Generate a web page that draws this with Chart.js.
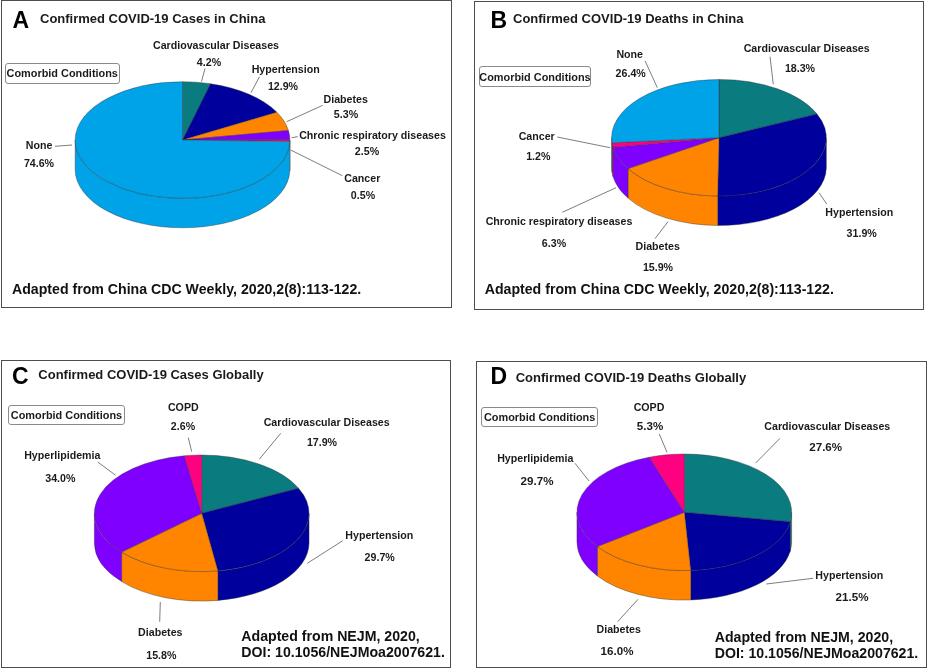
<!DOCTYPE html>
<html>
<head>
<meta charset="utf-8">
<title>Comorbid conditions</title>
<script src="https://cdn.jsdelivr.net/npm/chart.js@4"></script>
<style>
  html, body { margin: 0; padding: 0; background: #fff; }
  body { position: relative; width: 927px; height: 670px; overflow: hidden; font-family: "Liberation Sans", Arial, sans-serif; font-weight: bold; color: #1a1a1a; }
  canvas { position: absolute; }
  .panel { position: absolute; box-sizing: border-box; border: 1.5px solid #4d4d4d; }
  .txt { position: absolute; white-space: nowrap; line-height: 1; }
  .lab { font-size: 10.65px; transform: translate(-50%, -50%); }
  .big { font-size: 11.6px; }
  .letter { font-size: 23px; color: #000; transform: translateY(-50%); }
  .title { font-size: 13px; transform: translateY(-50%); }
  .foot { font-size: 14.15px; color: #111; transform: translateY(-50%); }
  .cond { position: absolute; box-sizing: border-box; border: 1px solid #8a8a8a; border-radius: 3px; font-size: 10.9px; display: flex; align-items: center; justify-content: center; white-space: nowrap; }
</style>
</head>
<body>
<script>
// data
var casesChinaNames = ["Cardiovascular Diseases", "Hypertension", "Diabetes", "Chronic respiratory diseases", "Cancer", "None"];
var casesChinaValues = [4.2, 12.9, 5.3, 2.5, 0.5, 74.6];
var deathsChinaNames = ["Cardiovascular Diseases", "Hypertension", "Diabetes", "Chronic respiratory diseases", "Cancer", "None"];
var deathsChinaValues = [18.3, 31.9, 15.9, 6.3, 1.2, 26.4];
var casesGlobalNames = ["Cardiovascular Diseases", "Hypertension", "Diabetes", "Hyperlipidemia", "COPD"];
var casesGlobalValues = [17.9, 29.7, 15.8, 34.0, 2.6];
var deathsGlobalNames = ["Cardiovascular Diseases", "Hypertension", "Diabetes", "Hyperlipidemia", "COPD"];
var deathsGlobalValues = [27.6, 21.5, 16.0, 29.7, 5.3];

var chinaColors = ["#0a7b7f", "#00009c", "#ff8400", "#8000ff", "#ff0080", "#00a2e8"];
var globalColors = ["#0a7b7f", "#00009c", "#ff8400", "#8000ff", "#ff0080"];

var chinaFoot = ["Adapted from China CDC Weekly, 2020,2(8):113-122."];
var globalFoot = ["Adapted from NEJM, 2020,", "DOI: 10.1056/NEJMoa2007621."];

// page layout, px. label rows: name x,y  value x,y  leader x1,y1,x2,y2
var RADIUS = 107.6, SQUASH = 0.543, DEPTH = 29.5;

var panels = [
  { letter: "A", title: "Confirmed COVID-19 Cases in China", names: casesChinaNames, values: casesChinaValues, colors: chinaColors, foot: chinaFoot,
    box: [1, 0, 450.5, 308], cx: 182.5, cy: 140, letterAt: [12.5, 19.5], titleAt: [40, 18], footAt: [12, 288.5], footGap: 0,
    cond: [5, 62.5, 114.5, 21.5],
    rows: [
      [216, 44.5, 209, 62, 205, 68.5, 201.5, 81.5],
      [285.7, 68.7, 283, 85.7, 259.5, 76.7, 251, 92.7],
      [345.7, 99.3, 346, 114, 322.7, 105.3, 286.7, 121.7],
      [372.5, 135.3, 367, 151, 297.7, 136.7, 291.7, 137.7],
      [362.3, 177.7, 363, 195.3, 342.3, 175.7, 290.7, 150],
      [39, 145, 39, 163, 55, 146.3, 72, 145]
    ] },
  { letter: "B", title: "Confirmed COVID-19 Deaths in China", names: deathsChinaNames, values: deathsChinaValues, colors: chinaColors, foot: chinaFoot,
    box: [474, 1, 450, 308.5], cx: 719, cy: 137.7, letterAt: [490.5, 19.5], titleAt: [513, 18.3], footAt: [484.7, 289], footGap: 0,
    cond: [479, 66.3, 112, 20.7],
    rows: [
      [806.7, 48.3, 800, 68.3, 770, 56.7, 773.3, 84.3],
      [859.3, 212.3, 861.7, 233, 826.7, 204, 819, 192.7],
      [657.7, 246, 658, 267, 655, 238.7, 668, 221.7],
      [559, 220.7, 554, 243, 562.3, 212.3, 616, 187.7],
      [536.7, 136, 538.3, 156, 557.3, 137, 610, 147.7],
      [629.7, 54, 630.7, 72.7, 645, 60.7, 657.3, 87.7]
    ] },
  { letter: "C", title: "Confirmed COVID-19 Cases Globally", names: casesGlobalNames, values: casesGlobalValues, colors: globalColors, foot: globalFoot,
    box: [1, 360, 449.5, 307.5], cx: 201.7, cy: 513.3, letterAt: [12, 376], titleAt: [38.3, 374.3], footAt: [241.3, 636], footGap: 16.4,
    cond: [7.7, 404.7, 117.6, 20.6],
    rows: [
      [326.7, 422, 322, 442.3, 280.7, 433.3, 259.3, 459.3],
      [379.3, 535.3, 379.7, 556.7, 342.7, 540.7, 307.3, 563.3],
      [160.3, 632, 161.3, 655, 160.3, 602, 159.7, 621.7],
      [62.3, 455.3, 60.3, 478, 97.7, 462, 115.7, 475.3],
      [183.3, 407, 183, 426.3, 188.3, 437.7, 191.7, 451.7]
    ] },
  { letter: "D", title: "Confirmed COVID-19 Deaths Globally", names: deathsGlobalNames, values: deathsGlobalValues, colors: globalColors, foot: globalFoot,
    box: [476.3, 361.3, 450.7, 307], cx: 684.3, cy: 512.3, letterAt: [490.5, 376], titleAt: [515.7, 377.3], footAt: [714.7, 637], footGap: 16.3,
    valueCls: "big", cond: [481.3, 407.3, 116.7, 19.7],
    rows: [
      [827.3, 426, 825.7, 447, 780, 438.3, 755.7, 463],
      [849.3, 575.3, 852, 597, 813, 578.3, 766.3, 584],
      [618.7, 629.3, 617, 651.3, 617.7, 621.7, 638, 599.3],
      [535.3, 458, 537, 480.7, 575, 463.3, 589, 481],
      [649, 407.3, 650, 425.7, 659.3, 434, 667, 452.3]
    ] }
];

// flattens the pie, puts a wall under the front half and draws the leaders
var tiltPlugin = {
  id: "tilt",
  beforeDatasetsDraw: function (chart) {
    var ctx = chart.ctx;
    var arcs = chart.getDatasetMeta(0).data;
    var bg = chart.data.datasets[0].backgroundColor;
    ctx.save();
    for (var i = 0; i < arcs.length; i++) {
      var p = arcs[i].getProps(["x", "y", "startAngle", "endAngle", "outerRadius"]);
      var a0 = Math.max(p.startAngle, 0);
      var a1 = Math.min(p.endAngle, Math.PI);
      if (a1 <= a0) continue;
      ctx.beginPath();
      ctx.ellipse(p.x, p.y, p.outerRadius, p.outerRadius * SQUASH, 0, a0, a1);
      ctx.ellipse(p.x, p.y + DEPTH, p.outerRadius, p.outerRadius * SQUASH, 0, a1, a0, true);
      ctx.closePath();
      ctx.fillStyle = bg[i];
      ctx.fill();
      ctx.lineWidth = 0.4;
      ctx.strokeStyle = "#333";
      ctx.stroke();
    }
    var cy = arcs[0].y;
    ctx.translate(0, cy);
    ctx.scale(1, SQUASH);
    ctx.translate(0, -cy);
  },
  afterDatasetsDraw: function (chart, args, opts) {
    var ctx = chart.ctx;
    ctx.restore();
    ctx.save();
    ctx.strokeStyle = "#6e6e6e";
    ctx.lineWidth = 0.9;
    opts.rows.forEach(function (r) {
      ctx.beginPath();
      ctx.moveTo(r[4] - opts.ox, r[5] - opts.oy);
      ctx.lineTo(r[6] - opts.ox, r[7] - opts.oy);
      ctx.stroke();
    });
    ctx.restore();
  }
};

function addText(cls, text, x, y) {
  var el = document.createElement("div");
  el.className = "txt " + cls;
  el.textContent = text;
  el.style.left = x + "px";
  el.style.top = y + "px";
  document.body.appendChild(el);
}

function drawPanel(pn) {
  var bx = pn.box;
  var frame = document.createElement("div");
  frame.className = "panel";
  frame.style.left = bx[0] + "px";
  frame.style.top = bx[1] + "px";
  frame.style.width = bx[2] + "px";
  frame.style.height = bx[3] + "px";
  document.body.appendChild(frame);

  var cv = document.createElement("canvas");
  var ox = Math.floor(bx[0]), oy = Math.floor(bx[1]);
  var w = Math.floor(bx[2]), h = Math.floor(bx[3]);
  cv.width = w;
  cv.height = h;
  cv.style.left = ox + "px";
  cv.style.top = oy + "px";
  document.body.appendChild(cv);

  new Chart(cv, {
    type: "pie",
    plugins: [tiltPlugin],
    data: {
      labels: pn.names,
      datasets: [{ data: pn.values, backgroundColor: pn.colors, borderColor: "#333", borderWidth: 0.5, clip: false }]
    },
    options: {
      responsive: false,
      animation: false,
      events: [],
      layout: {
        padding: {
          left: pn.cx - ox - RADIUS,
          right: w - (pn.cx - ox) - RADIUS,
          top: pn.cy - oy - RADIUS,
          bottom: h - (pn.cy - oy) - RADIUS
        }
      },
      plugins: {
        legend: { display: false },
        tooltip: { enabled: false },
        tilt: { rows: pn.rows, ox: ox, oy: oy }
      }
    }
  });

  addText("letter", pn.letter, pn.letterAt[0], pn.letterAt[1]);
  addText("title", pn.title, pn.titleAt[0], pn.titleAt[1]);
  pn.foot.forEach(function (line, i) {
    addText("foot", line, pn.footAt[0], pn.footAt[1] + i * pn.footGap);
  });

  var cond = document.createElement("div");
  cond.className = "cond";
  cond.textContent = "Comorbid Conditions";
  cond.style.left = pn.cond[0] + "px";
  cond.style.top = pn.cond[1] + "px";
  cond.style.width = pn.cond[2] + "px";
  cond.style.height = pn.cond[3] + "px";
  document.body.appendChild(cond);

  for (var i = 0; i < pn.names.length; i++) {
    var r = pn.rows[i];
    addText("lab", pn.names[i], r[0], r[1]);
    addText("lab " + (pn.valueCls || ""), pn.values[i].toFixed(1) + "%", r[2], r[3]);
  }
}

panels.forEach(drawPanel);
</script>
</body>
</html>
